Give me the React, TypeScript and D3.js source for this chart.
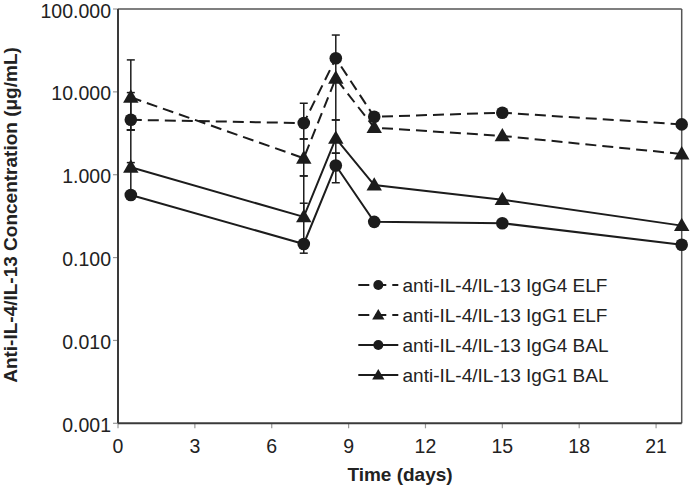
import React from "react";
import * as d3 from "d3";

const times = [0.5, 7.25, 8.5, 10, 15, 22];
const igg4Elf = [4.6, 4.2, 25.4, 5.0, 5.6, 4.05];
const igg1Elf = [8.6, 1.58, 14.6, 3.7, 2.94, 1.78];
const igg4Bal = [0.57, 0.146, 1.29, 0.27, 0.26, 0.143];
const igg1Bal = [1.23, 0.31, 2.75, 0.75, 0.5, 0.243];

const igg4ElfHi = [9.8, 7.29, 48.5, null, null, null];
const igg4ElfLo = [3.47, 2.7, 14.6, null, null, null];
const igg1ElfHi = [24.3, 2.7, null, null, null, null];
const igg1ElfLo = [3.47, 0.967, 4.58, null, null, null];
const igg4BalHi = [3.47, 0.453, 1.82, null, null, null];
const igg4BalLo = [null, 0.113, 0.8, null, null, null];
const igg1BalHi = [1.4, 0.967, 4.58, null, null, null];
const igg1BalLo = [null, null, 1.82, null, null, null];

const seriesNames = [
  "anti-IL-4/IL-13 IgG4 ELF",
  "anti-IL-4/IL-13 IgG1 ELF",
  "anti-IL-4/IL-13 IgG4 BAL",
  "anti-IL-4/IL-13 IgG1 BAL",
];
const xTicks = [0, 3, 6, 9, 12, 15, 18, 21];
const yTicks = [0.001, 0.01, 0.1, 1, 10, 100];
const yTickLabels = ["0.001", "0.010", "0.100", "1.000", "10.000", "100.000"];

type Series = {
  name: string;
  values: number[];
  hi: (number | null)[];
  lo: (number | null)[];
  dashed: boolean;
  marker: "circle" | "triangle";
};

const series: Series[] = [
  { name: seriesNames[0], values: igg4Elf, hi: igg4ElfHi, lo: igg4ElfLo, dashed: true, marker: "circle" },
  { name: seriesNames[1], values: igg1Elf, hi: igg1ElfHi, lo: igg1ElfLo, dashed: true, marker: "triangle" },
  { name: seriesNames[2], values: igg4Bal, hi: igg4BalHi, lo: igg4BalLo, dashed: false, marker: "circle" },
  { name: seriesNames[3], values: igg1Bal, hi: igg1BalHi, lo: igg1BalLo, dashed: false, marker: "triangle" },
];

const FONT = "'Liberation Sans', Arial, Helvetica, sans-serif";
const INK = "#1c1c1c";

const left = 118;
const right = 681.7;
const top = 9;
const bottom = 423.3;

const x = d3.scaleLinear().domain([0, 22]).range([left, right]);
const y = d3.scaleLog().domain([0.001, 100]).range([bottom, top]);

function Marker({ kind, cx, cy, size }: { kind: string; cx: number; cy: number; size: number }) {
  if (kind === "circle") {
    return <circle cx={cx} cy={cy} r={size} fill={INK} />;
  }
  const sym = d3.symbol().type(d3.symbolTriangle).size(size * size * 2.6)();
  return <path d={sym || ""} transform={`translate(${cx},${cy + 1})`} fill={INK} />;
}

export default function App() {
  const line = d3
    .line<number>()
    .x((_, i) => x(times[i]))
    .y((v) => y(v));

  return (
    <svg
      width={693}
      height={490}
      style={{ position: "absolute", left: 0, top: 0, background: "#fff" }}
      fontFamily={FONT}
    >
      <rect x={0} y={0} width={693} height={490} fill="#fff" />
      {/* frame */}
      <line x1={left} x2={right} y1={top} y2={top} stroke="#555" strokeWidth={1.5} />
      <line x1={right} x2={right} y1={top} y2={bottom} stroke="#555" strokeWidth={1.5} />
      {/* ticks */}
      {yTicks.map((t, i) => (
        <g key={"y" + i}>
          <line x1={left - 5} x2={left} y1={y(t)} y2={y(t)} stroke="#999" strokeWidth={1.2} />
          <text x={111} y={y(t)} dy="0.44em" textAnchor="end" fontSize={19.5} fill="#222">
            {yTickLabels[i]}
          </text>
        </g>
      ))}
      {xTicks.map((t, i) => (
        <g key={"x" + i}>
          <line x1={x(t)} x2={x(t)} y1={bottom} y2={bottom + 5} stroke="#999" strokeWidth={1.2} />
          <text x={x(t)} y={453} textAnchor="middle" fontSize={19.5} fill="#222">
            {t}
          </text>
        </g>
      ))}
      {/* axes */}
      <line x1={left} x2={left} y1={top} y2={bottom} stroke="#3a3a3a" strokeWidth={2} />
      <line x1={left} x2={right} y1={bottom} y2={bottom} stroke="#3a3a3a" strokeWidth={2} />

      {/* error bars */}
      {series.map((s, si) => (
        <g key={"e" + si}>
          {s.values.map((v, i) => {
            const cx = x(times[i]);
            const parts: React.ReactNode[] = [];
            const hi = s.hi[i];
            const lo = s.lo[i];
            if (hi != null) {
              parts.push(<line key="hl" x1={cx} x2={cx} y1={y(v)} y2={y(hi)} stroke={INK} strokeWidth={1.5} />);
              parts.push(<line key="hc" x1={cx - 4} x2={cx + 4} y1={y(hi)} y2={y(hi)} stroke={INK} strokeWidth={1.5} />);
            }
            if (lo != null) {
              parts.push(<line key="ll" x1={cx} x2={cx} y1={y(v)} y2={y(lo)} stroke={INK} strokeWidth={1.5} />);
              parts.push(<line key="lc" x1={cx - 4} x2={cx + 4} y1={y(lo)} y2={y(lo)} stroke={INK} strokeWidth={1.5} />);
            }
            return <g key={i}>{parts}</g>;
          })}
        </g>
      ))}

      {/* lines */}
      {series.map((s, si) => (
        <path
          key={"l" + si}
          d={line(s.values) || ""}
          fill="none"
          stroke={INK}
          strokeWidth={2}
          strokeDasharray={s.dashed ? "11,6" : undefined}
        />
      ))}
      {/* markers */}
      {series.map((s, si) => (
        <g key={"m" + si}>
          {s.values.map((v, i) => (
            <Marker key={i} kind={s.marker} cx={x(times[i])} cy={y(v)} size={6.3} />
          ))}
        </g>
      ))}

      {/* legend */}
      {series.map((s, si) => {
        const ly = 285 + si * 30;
        return (
          <g key={"lg" + si}>
            <line
              x1={358.3}
              x2={398.3}
              y1={ly}
              y2={ly}
              stroke={INK}
              strokeWidth={2}
              strokeDasharray={s.dashed ? "11,6" : undefined}
            />
            <Marker kind={s.marker} cx={378.3} cy={ly} size={5} />
            <text x={402.5} y={ly} dy="0.35em" fontSize={19} fill="#222">
              {s.name}
            </text>
          </g>
        );
      })}

      {/* axis titles */}
      <text x={400} y={481} textAnchor="middle" fontSize={19} fontWeight="bold" fill="#222">
        Time (days)
      </text>
      <text
        transform="translate(16.5,215) rotate(-90)"
        textAnchor="middle"
        fontSize={19}
        fontWeight="bold"
        fill="#222"
      >
        Anti-IL-4/IL-13 Concentration (μg/mL)
      </text>
    </svg>
  );
}
